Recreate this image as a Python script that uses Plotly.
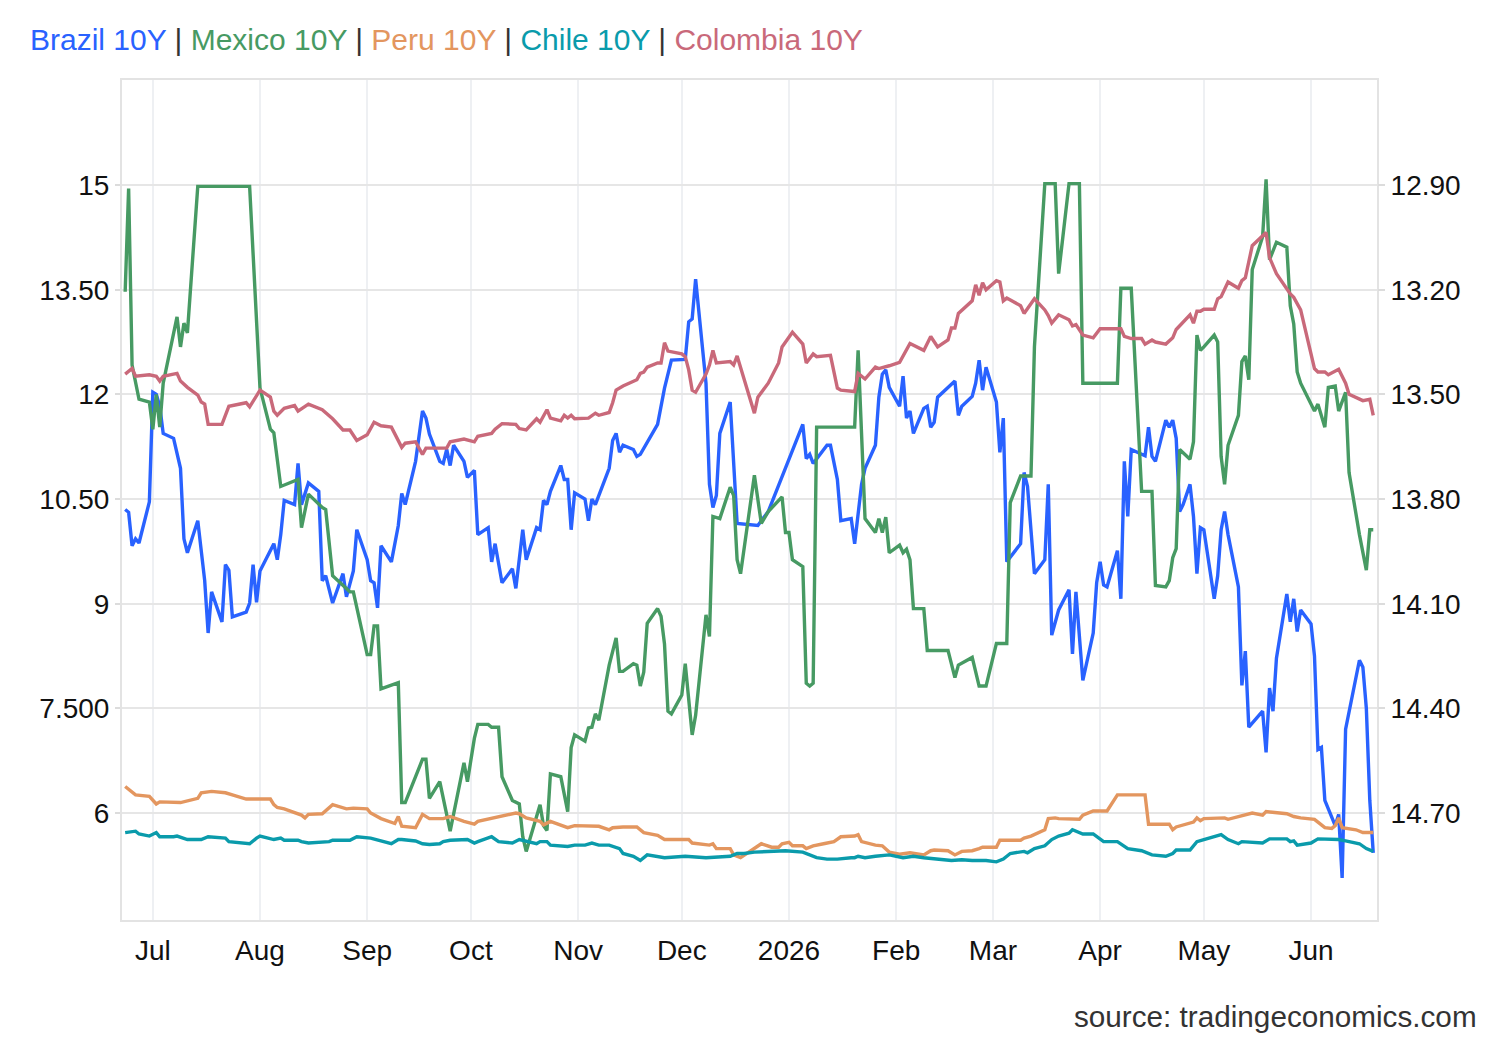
import plotly.graph_objects as go

# ---------------- data ----------------
brazil_dates = ["2025-06-23","2025-06-24","2025-06-25","2025-06-26","2025-06-27","2025-06-30","2025-07-01","2025-07-02","2025-07-03","2025-07-04",
"2025-07-07","2025-07-09","2025-07-10","2025-07-11","2025-07-14","2025-07-16","2025-07-17","2025-07-18","2025-07-21","2025-07-22",
"2025-07-23","2025-07-24","2025-07-28","2025-07-29","2025-07-30","2025-07-31","2025-08-01","2025-08-05","2025-08-06","2025-08-07",
"2025-08-08","2025-08-11","2025-08-12","2025-08-13","2025-08-15","2025-08-18","2025-08-19","2025-08-20","2025-08-22","2025-08-25",
"2025-08-26","2025-08-28","2025-08-29","2025-09-01","2025-09-02","2025-09-03","2025-09-04","2025-09-05","2025-09-08","2025-09-09",
"2025-09-10","2025-09-11","2025-09-12","2025-09-15","2025-09-17","2025-09-18","2025-09-19","2025-09-22","2025-09-23","2025-09-24",
"2025-09-25","2025-09-26","2025-09-29","2025-09-30","2025-10-02","2025-10-03","2025-10-06","2025-10-07","2025-10-08","2025-10-10",
"2025-10-13","2025-10-14","2025-10-16","2025-10-17","2025-10-20","2025-10-21","2025-10-22","2025-10-23","2025-10-24","2025-10-27",
"2025-10-28","2025-10-29","2025-10-30","2025-10-31","2025-11-03","2025-11-04","2025-11-05","2025-11-06","2025-11-10","2025-11-11",
"2025-11-12","2025-11-13","2025-11-14","2025-11-17","2025-11-18","2025-11-19","2025-11-24","2025-11-26","2025-11-28","2025-12-02",
"2025-12-03","2025-12-04","2025-12-05","2025-12-08","2025-12-09","2025-12-10","2025-12-11","2025-12-12","2025-12-15","2025-12-17",
"2025-12-23","2025-12-24","2025-12-26","2026-01-05","2026-01-06","2026-01-07","2026-01-08","2026-01-12","2026-01-13","2026-01-15",
"2026-01-16","2026-01-19","2026-01-20","2026-01-22","2026-01-23","2026-01-26","2026-01-27","2026-01-28","2026-01-29","2026-01-30",
"2026-02-02","2026-02-03","2026-02-04","2026-02-05","2026-02-06","2026-02-09","2026-02-10","2026-02-11","2026-02-12","2026-02-13",
"2026-02-18","2026-02-19","2026-02-20","2026-02-23","2026-02-24","2026-02-25","2026-02-26","2026-02-27","2026-03-02","2026-03-03",
"2026-03-04","2026-03-05","2026-03-09","2026-03-10","2026-03-11","2026-03-13","2026-03-16","2026-03-17","2026-03-18","2026-03-20",
"2026-03-23","2026-03-24","2026-03-25","2026-03-27","2026-03-30","2026-03-31","2026-04-01","2026-04-02","2026-04-03","2026-04-06",
"2026-04-07","2026-04-08","2026-04-09","2026-04-10","2026-04-13","2026-04-14","2026-04-15","2026-04-16","2026-04-17","2026-04-20",
"2026-04-21","2026-04-22","2026-04-23","2026-04-24","2026-04-25","2026-04-27","2026-04-28","2026-04-29","2026-04-30","2026-05-01",
"2026-05-04","2026-05-05","2026-05-06","2026-05-07","2026-05-08","2026-05-11","2026-05-12","2026-05-13","2026-05-14","2026-05-18",
"2026-05-19","2026-05-20","2026-05-21","2026-05-22","2026-05-25","2026-05-26","2026-05-27","2026-05-28","2026-05-29","2026-06-01",
"2026-06-02","2026-06-03","2026-06-04","2026-06-05","2026-06-08","2026-06-09","2026-06-10","2026-06-11","2026-06-15","2026-06-16",
"2026-06-17","2026-06-18","2026-06-19"]
brazil_vals = [10.35,10.31,9.83,9.93,9.87,10.46,12.03,12.00,11.83,11.44,
11.37,10.94,9.93,9.73,10.19,9.33,8.58,9.17,8.74,9.56,
9.48,8.81,8.88,9.01,9.56,9.02,9.47,9.86,9.63,9.99,
10.48,10.42,11.01,10.42,10.73,10.61,9.33,9.40,9.01,9.43,
9.10,9.47,10.06,9.63,9.33,9.30,8.94,9.83,9.60,9.86,
10.12,10.58,10.42,11.04,11.76,11.66,11.43,11.04,11.01,11.21,
10.98,11.27,11.04,10.81,10.91,9.99,10.09,9.60,9.86,9.30,
9.50,9.22,10.06,9.63,10.09,10.06,10.48,10.42,10.61,10.98,
10.78,10.78,10.06,10.59,10.50,10.19,10.50,10.42,10.94,11.34,
11.44,11.17,11.27,11.21,11.11,11.14,11.57,12.09,12.49,12.50,
13.04,13.08,13.65,12.16,10.71,10.38,10.55,11.44,11.89,10.15,
10.12,10.19,10.32,11.57,11.08,11.14,11.01,11.27,11.27,10.78,
10.19,10.22,9.86,10.71,10.94,11.27,11.96,12.29,12.35,12.10,
11.83,12.26,11.66,11.76,11.44,11.80,11.83,11.53,11.60,11.96,
12.19,11.70,11.83,11.97,12.16,12.49,12.06,12.39,11.89,11.17,
11.66,9.60,9.86,10.88,10.68,9.43,9.63,10.71,8.55,8.91,
9.20,8.28,9.17,7.90,8.58,9.30,9.60,9.27,9.24,9.76,
9.07,11.04,10.25,11.21,11.14,11.12,11.53,11.11,11.04,11.63,
11.53,11.63,11.37,10.32,10.42,10.71,10.25,9.43,10.09,10.06,
9.07,9.40,10.06,10.32,9.99,9.24,7.83,8.32,7.23,7.46,
6.87,7.79,7.46,8.22,9.14,8.74,9.07,8.60,8.91,8.71,
8.25,6.91,6.94,6.18,5.82,5.98,5.07,7.20,8.19,8.09,
7.50,6.18,5.43]

mexico_dates = ["2025-06-23","2025-06-24","2025-06-25","2025-06-27","2025-06-30","2025-07-01","2025-07-02","2025-07-03","2025-07-04","2025-07-08",
"2025-07-09","2025-07-10","2025-07-11","2025-07-14","2025-07-29","2025-08-01","2025-08-04","2025-08-05","2025-08-07","2025-08-12",
"2025-08-13","2025-08-15","2025-08-19","2025-08-20","2025-08-22","2025-08-27","2025-08-28","2025-09-01","2025-09-02","2025-09-03",
"2025-09-04","2025-09-05","2025-09-10","2025-09-11","2025-09-12","2025-09-17","2025-09-18","2025-09-19","2025-09-22","2025-09-25",
"2025-09-29","2025-09-30","2025-10-02","2025-10-03","2025-10-06","2025-10-07","2025-10-09","2025-10-10","2025-10-13","2025-10-15",
"2025-10-16","2025-10-17","2025-10-21","2025-10-22","2025-10-23","2025-10-24","2025-10-27","2025-10-29","2025-10-30","2025-10-31",
"2025-11-03","2025-11-04","2025-11-05","2025-11-06","2025-11-07","2025-11-10","2025-11-12","2025-11-13","2025-11-14","2025-11-17",
"2025-11-18","2025-11-19","2025-11-20","2025-11-21","2025-11-24","2025-11-25","2025-11-26","2025-11-27","2025-11-28","2025-12-01",
"2025-12-02","2025-12-03","2025-12-04","2025-12-05","2025-12-08","2025-12-09","2025-12-10","2025-12-12","2025-12-15","2025-12-16",
"2025-12-17","2025-12-18","2025-12-22","2025-12-24","2025-12-26","2025-12-30","2025-12-31","2026-01-01","2026-01-02","2026-01-05",
"2026-01-06","2026-01-07","2026-01-08","2026-01-09","2026-01-20","2026-01-21","2026-01-22","2026-01-23","2026-01-26","2026-01-27",
"2026-01-28","2026-01-29","2026-01-30","2026-02-02","2026-02-03","2026-02-04","2026-02-05","2026-02-06","2026-02-09","2026-02-10",
"2026-02-16","2026-02-18","2026-02-19","2026-02-23","2026-02-25","2026-02-27","2026-03-02","2026-03-05","2026-03-06","2026-03-09",
"2026-03-12","2026-03-13","2026-03-16","2026-03-19","2026-03-20","2026-03-23","2026-03-26","2026-03-27","2026-04-06","2026-04-07",
"2026-04-10","2026-04-13","2026-04-16","2026-04-17","2026-04-20","2026-04-21","2026-04-22","2026-04-23","2026-04-24","2026-04-27",
"2026-04-28","2026-04-29","2026-04-30","2026-05-01","2026-05-04","2026-05-05","2026-05-06","2026-05-07","2026-05-08","2026-05-11",
"2026-05-12","2026-05-13","2026-05-14","2026-05-15","2026-05-18","2026-05-19","2026-05-20","2026-05-22","2026-05-25","2026-05-26",
"2026-05-27","2026-05-28","2026-05-29","2026-06-02","2026-06-03","2026-06-04","2026-06-05","2026-06-06","2026-06-08","2026-06-09",
"2026-06-11","2026-06-12","2026-06-15","2026-06-17","2026-06-18","2026-06-19"]
mexico_vals = [13.47,14.95,12.42,11.93,11.89,11.50,12.00,11.53,12.16,13.11,
12.68,13.02,12.88,14.98,14.98,12.09,11.50,11.45,10.68,10.78,
10.09,10.57,10.38,10.35,9.40,9.17,9.17,8.27,8.27,8.68,
8.68,7.78,7.87,6.15,6.15,6.77,6.77,6.21,6.45,5.74,
6.72,6.45,7.07,7.27,7.27,7.23,7.23,6.52,6.18,6.13,
5.66,5.45,6.12,5.82,5.75,6.56,6.52,6.02,6.94,7.12,
7.03,7.22,7.23,7.42,7.33,8.12,8.51,8.03,8.03,8.14,
8.12,7.82,8.02,8.72,8.93,8.82,8.42,7.46,7.42,7.69,
8.14,7.59,7.12,7.40,8.84,8.53,10.25,10.22,10.67,10.55,
9.63,9.43,10.84,10.15,10.32,10.53,10.02,10.02,9.63,9.53,
7.86,7.82,7.86,11.53,11.53,12.63,11.30,10.22,10.02,10.22,
10.02,10.24,9.73,9.84,9.73,9.78,9.63,8.93,8.93,8.33,
8.33,7.94,8.12,8.23,7.82,7.82,8.43,8.43,10.45,10.83,
10.83,12.68,15.02,15.02,13.73,15.02,15.02,12.16,12.16,13.52,
13.52,10.61,10.61,9.26,9.24,9.33,9.66,9.79,11.21,11.07,
11.32,12.85,12.63,12.68,12.85,12.75,11.11,10.71,11.27,11.70,
12.47,12.55,12.21,13.79,14.26,15.08,13.93,14.18,14.11,13.27,
13.01,12.32,12.16,11.76,11.86,11.70,11.53,12.10,12.12,11.76,
12.03,10.88,9.99,9.48,10.06,10.06]

peru_dates = ["2025-06-23","2025-06-26","2025-06-30","2025-07-02","2025-07-03","2025-07-08","2025-07-09","2025-07-14","2025-07-15","2025-07-18",
"2025-07-22","2025-07-24","2025-07-28","2025-08-04","2025-08-05","2025-08-06","2025-08-08","2025-08-13","2025-08-14","2025-08-15",
"2025-08-19","2025-08-22","2025-08-26","2025-08-28","2025-09-01","2025-09-02","2025-09-05","2025-09-09","2025-09-10","2025-09-11",
"2025-09-15","2025-09-17","2025-09-18","2025-09-19","2025-09-23","2025-09-25","2025-09-29","2025-10-02","2025-10-03","2025-10-08",
"2025-10-10","2025-10-14","2025-10-15","2025-10-17","2025-10-21","2025-10-22","2025-10-24","2025-10-29","2025-10-31","2025-11-04",
"2025-11-07","2025-11-10","2025-11-11","2025-11-14","2025-11-18","2025-11-20","2025-11-24","2025-11-26","2025-12-03","2025-12-04",
"2025-12-09","2025-12-10","2025-12-11","2025-12-15","2025-12-16","2025-12-18","2025-12-21","2025-12-24","2025-12-27","2025-12-29",
"2025-12-30","2026-01-01","2026-01-02","2026-01-05","2026-01-06","2026-01-08","2026-01-11","2026-01-14","2026-01-16","2026-01-20",
"2026-01-21","2026-01-22","2026-01-26","2026-01-28","2026-01-30","2026-02-02","2026-02-05","2026-02-09","2026-02-11","2026-02-12",
"2026-02-16","2026-02-18","2026-02-20","2026-02-23","2026-02-25","2026-02-26","2026-03-02","2026-03-03","2026-03-09","2026-03-10",
"2026-03-12","2026-03-16","2026-03-17","2026-03-19","2026-03-20","2026-03-26","2026-03-27","2026-03-30","2026-04-03","2026-04-06",
"2026-04-14","2026-04-15","2026-04-21","2026-04-22","2026-04-23","2026-04-28","2026-04-29","2026-04-30","2026-05-01","2026-05-05",
"2026-05-07","2026-05-08","2026-05-11","2026-05-15","2026-05-18","2026-05-19","2026-05-25","2026-05-27","2026-05-29","2026-06-02",
"2026-06-03","2026-06-05","2026-06-07","2026-06-08","2026-06-09","2026-06-10","2026-06-14","2026-06-16","2026-06-19"]
peru_vals = [6.38,6.26,6.24,6.13,6.16,6.16,6.15,6.21,6.29,6.31,
6.29,6.26,6.20,6.20,6.12,6.08,6.06,5.97,5.93,5.98,
5.99,6.12,6.06,6.07,6.06,6.00,5.92,5.85,5.95,5.81,
5.79,5.98,5.95,5.92,5.92,5.95,5.88,5.84,5.88,5.93,
5.95,6.00,5.99,5.93,5.88,5.83,5.88,5.79,5.82,5.81,
5.81,5.76,5.79,5.80,5.80,5.72,5.68,5.62,5.62,5.57,
5.54,5.56,5.49,5.49,5.40,5.36,5.46,5.56,5.51,5.51,
5.56,5.58,5.53,5.53,5.49,5.53,5.56,5.59,5.66,5.67,
5.69,5.59,5.54,5.53,5.44,5.41,5.43,5.40,5.46,5.47,
5.46,5.40,5.45,5.46,5.49,5.51,5.51,5.61,5.61,5.64,
5.67,5.76,5.92,5.93,5.92,5.91,5.97,6.03,6.03,6.26,
6.26,5.84,5.84,5.76,5.80,5.87,5.93,5.89,5.92,5.92,
5.93,5.91,5.95,6.00,5.97,6.02,5.99,5.95,5.93,5.91,
5.87,5.79,5.78,5.82,5.93,5.79,5.76,5.72,5.72]

chile_dates = ["2025-06-23","2025-06-26","2025-06-27","2025-06-30","2025-07-02","2025-07-03","2025-07-07","2025-07-08","2025-07-11","2025-07-15",
"2025-07-17","2025-07-22","2025-07-23","2025-07-29","2025-07-31","2025-08-01","2025-08-05","2025-08-07","2025-08-08","2025-08-12",
"2025-08-13","2025-08-15","2025-08-21","2025-08-22","2025-08-27","2025-08-29","2025-09-02","2025-09-05","2025-09-08","2025-09-10",
"2025-09-11","2025-09-15","2025-09-17","2025-09-19","2025-09-22","2025-09-23","2025-09-25","2025-09-30","2025-10-02","2025-10-03",
"2025-10-07","2025-10-09","2025-10-13","2025-10-15","2025-10-20","2025-10-21","2025-10-23","2025-10-24","2025-10-29","2025-10-31",
"2025-11-03","2025-11-05","2025-11-07","2025-11-10","2025-11-13","2025-11-14","2025-11-17","2025-11-19","2025-11-20","2025-11-21",
"2025-11-26","2025-12-02","2025-12-08","2025-12-15","2025-12-17","2025-12-19","2025-12-22","2025-12-26","2025-12-31","2026-01-05",
"2026-01-06","2026-01-09","2026-01-12","2026-01-15","2026-01-19","2026-01-20","2026-01-21","2026-01-23","2026-01-26","2026-01-30",
"2026-02-03","2026-02-06","2026-02-09","2026-02-13","2026-02-17","2026-02-20","2026-02-23","2026-02-27","2026-03-02","2026-03-04",
"2026-03-06","2026-03-10","2026-03-11","2026-03-13","2026-03-16","2026-03-18","2026-03-20","2026-03-23","2026-03-24","2026-03-27",
"2026-03-30","2026-04-02","2026-04-06","2026-04-09","2026-04-13","2026-04-16","2026-04-20","2026-04-22","2026-04-23","2026-04-27",
"2026-04-29","2026-05-01","2026-05-05","2026-05-06","2026-05-08","2026-05-11","2026-05-12","2026-05-18","2026-05-20","2026-05-25",
"2026-05-26","2026-05-27","2026-05-28","2026-06-01","2026-06-03","2026-06-09","2026-06-11","2026-06-15","2026-06-17","2026-06-19"]
chile_vals = [5.72,5.74,5.70,5.67,5.72,5.66,5.66,5.67,5.62,5.62,
5.66,5.64,5.59,5.56,5.64,5.67,5.62,5.64,5.61,5.61,
5.59,5.57,5.59,5.61,5.61,5.66,5.64,5.60,5.56,5.62,
5.62,5.60,5.56,5.55,5.56,5.59,5.61,5.62,5.57,5.59,
5.66,5.59,5.57,5.62,5.56,5.59,5.59,5.54,5.52,5.54,
5.54,5.57,5.54,5.54,5.49,5.42,5.38,5.32,5.36,5.40,
5.36,5.38,5.36,5.38,5.42,5.42,5.44,5.45,5.46,5.44,
5.42,5.36,5.34,5.34,5.36,5.36,5.38,5.36,5.38,5.40,
5.36,5.38,5.36,5.34,5.32,5.33,5.32,5.32,5.30,5.34,
5.42,5.45,5.43,5.49,5.53,5.62,5.67,5.71,5.76,5.70,
5.70,5.59,5.59,5.49,5.46,5.40,5.38,5.42,5.47,5.47,
5.59,5.62,5.67,5.69,5.62,5.56,5.59,5.57,5.63,5.63,
5.59,5.60,5.54,5.57,5.63,5.62,5.60,5.56,5.49,5.45]

colombia_dates = ["2025-06-23","2025-06-25","2025-06-26","2025-06-30","2025-07-02","2025-07-03","2025-07-04","2025-07-07","2025-07-08","2025-07-09",
"2025-07-11","2025-07-14","2025-07-15","2025-07-16","2025-07-17","2025-07-21","2025-07-22","2025-07-23","2025-07-28","2025-07-29",
"2025-08-01","2025-08-04","2025-08-05","2025-08-06","2025-08-08","2025-08-11","2025-08-12","2025-08-15","2025-08-19","2025-08-21",
"2025-08-22","2025-08-25","2025-08-27","2025-08-29","2025-09-01","2025-09-03","2025-09-05","2025-09-08","2025-09-11","2025-09-12",
"2025-09-15","2025-09-17","2025-09-18","2025-09-22","2025-09-24","2025-09-25","2025-09-29","2025-10-02","2025-10-03","2025-10-07",
"2025-10-08","2025-10-10","2025-10-14","2025-10-15","2025-10-17","2025-10-20","2025-10-21","2025-10-23","2025-10-24","2025-10-27",
"2025-10-28","2025-10-29","2025-10-30","2025-10-31","2025-11-04","2025-11-06","2025-11-07","2025-11-10","2025-11-11","2025-11-12",
"2025-11-14","2025-11-18","2025-11-19","2025-11-20","2025-11-21","2025-11-24","2025-11-25","2025-11-26","2025-11-27","2025-12-01",
"2025-12-02","2025-12-03","2025-12-04","2025-12-05","2025-12-08","2025-12-09","2025-12-10","2025-12-11","2025-12-15","2025-12-16",
"2025-12-17","2025-12-22","2025-12-23","2025-12-26","2025-12-29","2025-12-30","2026-01-02","2026-01-05","2026-01-06","2026-01-08",
"2026-01-09","2026-01-13","2026-01-15","2026-01-16","2026-01-20","2026-01-21","2026-01-23","2026-01-26","2026-01-27","2026-01-30",
"2026-02-02","2026-02-05","2026-02-09","2026-02-11","2026-02-13","2026-02-16","2026-02-17","2026-02-18","2026-02-19","2026-02-23",
"2026-02-24","2026-02-25","2026-02-26","2026-02-27","2026-03-02","2026-03-03","2026-03-04","2026-03-05","2026-03-09","2026-03-10",
"2026-03-13","2026-03-16","2026-03-17","2026-03-18","2026-03-20","2026-03-23","2026-03-24","2026-03-25","2026-03-27","2026-03-30",
"2026-04-01","2026-04-06","2026-04-07","2026-04-08","2026-04-10","2026-04-13","2026-04-14","2026-04-16","2026-04-17","2026-04-20",
"2026-04-22","2026-04-23","2026-04-24","2026-04-27","2026-04-28","2026-04-29","2026-04-30","2026-05-01","2026-05-04","2026-05-05",
"2026-05-06","2026-05-08","2026-05-11","2026-05-12","2026-05-13","2026-05-15","2026-05-19","2026-05-20","2026-05-22","2026-05-25",
"2026-05-26","2026-05-27","2026-05-29","2026-06-02","2026-06-03","2026-06-05","2026-06-06","2026-06-09","2026-06-11","2026-06-12",
"2026-06-14","2026-06-16","2026-06-18","2026-06-19"]
# Colombia values expressed on the left scale (right scale is its inverted mirror)
colombia_vals = [12.29,12.37,12.26,12.28,12.26,12.19,12.26,12.29,12.30,12.19,
12.10,11.99,11.89,11.86,11.57,11.57,11.70,11.83,11.88,11.82,
12.06,11.96,11.76,11.70,11.80,11.84,11.76,11.86,11.78,11.70,
11.65,11.49,11.49,11.34,11.42,11.60,11.55,11.53,11.24,11.30,
11.32,11.14,11.23,11.23,11.23,11.32,11.36,11.32,11.40,11.44,
11.50,11.58,11.57,11.51,11.49,11.65,11.60,11.78,11.66,11.62,
11.70,11.66,11.70,11.65,11.66,11.73,11.70,11.74,11.88,12.06,
12.12,12.21,12.30,12.32,12.39,12.45,12.45,12.74,12.62,12.58,
12.54,12.35,12.06,12.03,12.29,12.42,12.63,12.45,12.47,12.42,
12.55,11.73,11.96,12.16,12.45,12.68,12.89,12.72,12.45,12.58,
12.54,12.56,12.09,12.06,12.04,12.30,12.22,12.39,12.37,12.41,
12.46,12.73,12.63,12.83,12.68,12.78,12.95,12.95,13.16,13.34,
13.57,13.42,13.60,13.50,13.63,13.61,13.34,13.38,13.27,13.16,
13.37,13.21,13.13,13.02,13.14,13.07,12.98,13.00,12.85,12.81,
12.94,12.94,12.94,12.83,12.80,12.80,12.72,12.78,12.75,12.72,
12.81,12.93,12.98,13.14,13.02,13.19,13.19,13.22,13.22,13.37,
13.40,13.61,13.52,13.63,13.67,14.13,14.32,13.96,13.73,13.50,
13.44,13.39,13.21,12.37,12.32,12.32,12.28,12.36,12.16,12.00,
11.95,11.91,11.93,11.70]

month_ticks = ["2025-07-01","2025-08-01","2025-09-01","2025-10-01","2025-11-01","2025-12-01",
               "2026-01-01","2026-02-01","2026-03-01","2026-04-01","2026-05-01","2026-06-01"]
month_labels = ["Jul","Aug","Sep","Oct","Nov","Dec","2026","Feb","Mar","Apr","May","Jun"]
left_ticks = [6, 7.5, 9, 10.5, 12, 13.5, 15]
left_labels = ["6", "7.500", "9", "10.50", "12", "13.50", "15"]
right_ticks = [12.90, 13.20, 13.50, 13.80, 14.10, 14.40, 14.70]
right_labels = ["12.90", "13.20", "13.50", "13.80", "14.10", "14.40", "14.70"]

series = [
    ("Brazil 10Y", brazil_dates, brazil_vals, "#2962ff"),
    ("Mexico 10Y", mexico_dates, mexico_vals, "#479a63"),
    ("Peru 10Y", peru_dates, peru_vals, "#e3965f"),
    ("Chile 10Y", chile_dates, chile_vals, "#0a9bab"),
    ("Colombia 10Y", colombia_dates, colombia_vals, "#c9697a"),
]

FONT = "Liberation Sans, Arial, sans-serif"

fig = go.Figure()
for name, xs, ys, col in series:
    fig.add_trace(go.Scatter(x=xs, y=ys, name=name, mode="lines",
                             line=dict(color=col, width=3.4), showlegend=False))
# secondary (inverted) axis carrier
fig.add_trace(go.Scatter(x=[], y=[], yaxis="y2", showlegend=False))

legend_html = " <span style='color:#333'>|</span> ".join(
    f"<span style='color:{c}'>{n}</span>" for n, _, _, c in series)

fig.update_layout(
    width=1500, height=1040,
    margin=dict(l=122, r=123, t=80, b=120),
    paper_bgcolor="white", plot_bgcolor="white",
    font=dict(family=FONT, size=28, color="#111"),
    xaxis=dict(type="date", range=["2025-06-22 02:00", "2026-06-20 02:00"],
               tickvals=month_ticks, ticktext=month_labels,
               showgrid=True, gridcolor="#eef0f3", gridwidth=2,
               showline=True, linecolor="#e3e3e3", linewidth=2, mirror=True,
               ticks="outside", ticklen=4, tickcolor="rgba(0,0,0,0)",
               tickfont=dict(size=28, color="#111"), zeroline=False),
    yaxis=dict(range=[4.467, 16.505], tickvals=left_ticks, ticktext=left_labels,
               showgrid=True, gridcolor="#e6e6e6", gridwidth=2,
               showline=True, linecolor="#e3e3e3", linewidth=2, mirror=True,
               ticks="outside", ticklen=5, tickcolor="#dcdcdc", tickwidth=2,
               tickfont=dict(size=28, color="#111"), zeroline=False),
    yaxis2=dict(overlaying="y", side="right", range=[15.0066, 12.599],
                tickvals=right_ticks, ticktext=right_labels, showgrid=False,
                ticks="outside", ticklen=7, tickcolor="#dcdcdc", tickwidth=2,
                tickfont=dict(size=28, color="#111"), zeroline=False, showline=False),
    annotations=[
        dict(text=legend_html, xref="paper", yref="paper",
             x=(28 - 122) / 1255, y=(920 - 40) / 840, xanchor="left", yanchor="middle",
             showarrow=False, font=dict(size=30, family=FONT)),
        dict(text="source: tradingeconomics.com", xref="paper", yref="paper",
             x=(1479 - 122) / 1255, y=(920 - 1016) / 840, xanchor="right", yanchor="middle",
             showarrow=False, font=dict(size=29.7, family=FONT, color="#333")),
    ],
)

fig.write_html("out.html")
